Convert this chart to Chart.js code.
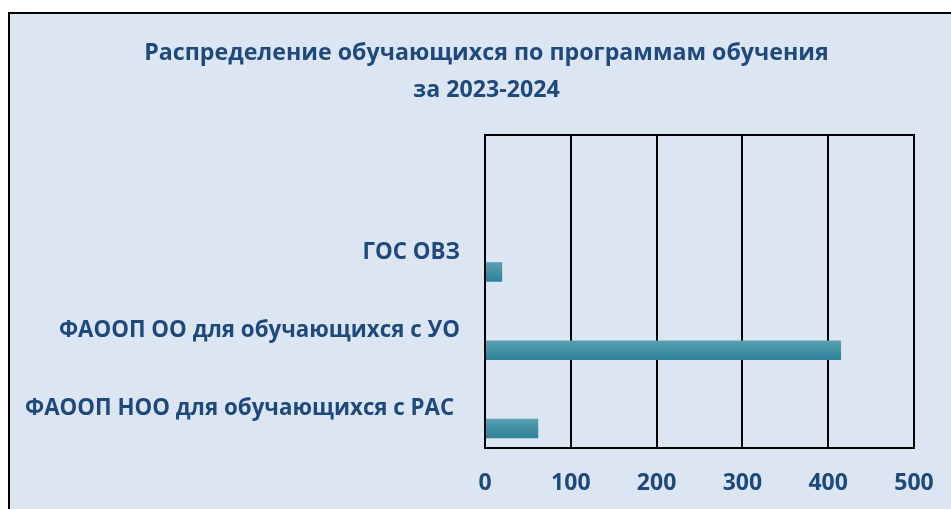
<!DOCTYPE html>
<html>
<head>
<meta charset="utf-8">
<script src="https://cdn.jsdelivr.net/npm/chart.js@4/dist/chart.umd.min.js"></script>
<style>
  html, body { margin: 0; padding: 0; background: #ffffff; overflow: hidden; width: 951px; height: 509px; }
  #frame { position: absolute; left: 8px; top: 12px; width: 960px; height: 520px;
           border-left: 2px solid #000; border-top: 2px solid #000; background: #dce6f2; }
  #c { position: absolute; left: 0; top: 0; }
</style>
</head>
<body>
<div id="frame"></div>
<canvas id="c" width="951" height="509"></canvas>
<script>
const titleLines = ['Распределение обучающихся по программам обучения', 'за 2023-2024'];
const categories = ['', 'ГОС ОВЗ', 'ФАООП ОО для обучающихся с УО', 'ФАООП НОО для обучающихся с РАС '];
const emptySeries = [null, null, null, null];
const studentCounts = [null, 20, 415, 62];
const xTicks = [0, 100, 200, 300, 400, 500];

const textColor = '#1f497d';

const decor = {
  id: 'decor',
  beforeDatasetsDraw(chart) {
    const ctx = chart.ctx;
    chart.data.datasets.forEach((ds, i) => {
      const meta = chart.getDatasetMeta(i);
      meta.data.forEach(el => {
        const p = el.getProps(['y', 'height'], true);
        if (!isFinite(p.y) || !isFinite(p.height)) return;
        const g = ctx.createLinearGradient(0, p.y - p.height / 2, 0, p.y + p.height / 2);
        g.addColorStop(0, '#5ba0b2');
        g.addColorStop(1, '#2b8197');
        el.options = Object.assign({}, el.options, { backgroundColor: g });
      });
    });
  },
  afterDatasetsDraw(chart) {
    const { ctx, chartArea: a } = chart;
    ctx.save();
    ctx.strokeStyle = '#000';
    ctx.lineWidth = 2;
    ctx.strokeRect(a.left, a.top, a.right - a.left, a.bottom - a.top);
    ctx.restore();
  },
  afterDraw(chart) {
    const ctx = chart.ctx;
    ctx.save();
    ctx.fillStyle = textColor;
    ctx.font = 'bold 23.2px "Open Sans"';
    ctx.textAlign = 'center';
    ctx.textBaseline = 'middle';
    titleLines.forEach((line, i) => ctx.fillText(line, 486.5, 53 + i * 37));
    ctx.restore();
  }
};

new Chart(document.getElementById('c'), {
  type: 'bar',
  data: {
    labels: categories,
    datasets: [
      { label: 'empty', data: emptySeries, backgroundColor: 'rgba(0,0,0,0)' },
      { label: 'Количество', data: studentCounts, backgroundColor: '#31849b' }
    ]
  },
  options: {
    indexAxis: 'y',
    responsive: false,
    animation: false,
    devicePixelRatio: 1,
    categoryPercentage: 1.0,
    barPercentage: 0.5,
    layout: { padding: { left: 10, right: 37, top: 135, bottom: 0 } },
    plugins: {
      legend: { display: false },
      tooltip: { enabled: false },
      title: { display: false }
    },
    scales: {
      x: {
        type: 'linear',
        min: 0,
        max: 500,
        afterBuildTicks(scale) { scale.ticks = xTicks.map(v => ({ value: v })); },
        afterFit(scale) { scale.height = 61; scale.paddingRight = 0; scale.paddingLeft = 0; },
        grid: { display: true, color: '#000', lineWidth: 2, drawTicks: false },
        border: { display: false },
        ticks: {
          color: textColor,
          padding: 22,
          font: { family: 'Open Sans', size: 23, weight: 'bold' }
        }
      },
      y: {
        afterFit(scale) { scale.width = 485 - 10; },
        grid: { display: false },
        border: { display: false },
        ticks: {
          color: textColor,
          padding: 17,
          font: { family: 'Open Sans', size: 22.3, weight: 'bold' }
        }
      }
    }
  },
  plugins: [decor]
});
</script>
</body>
</html>
